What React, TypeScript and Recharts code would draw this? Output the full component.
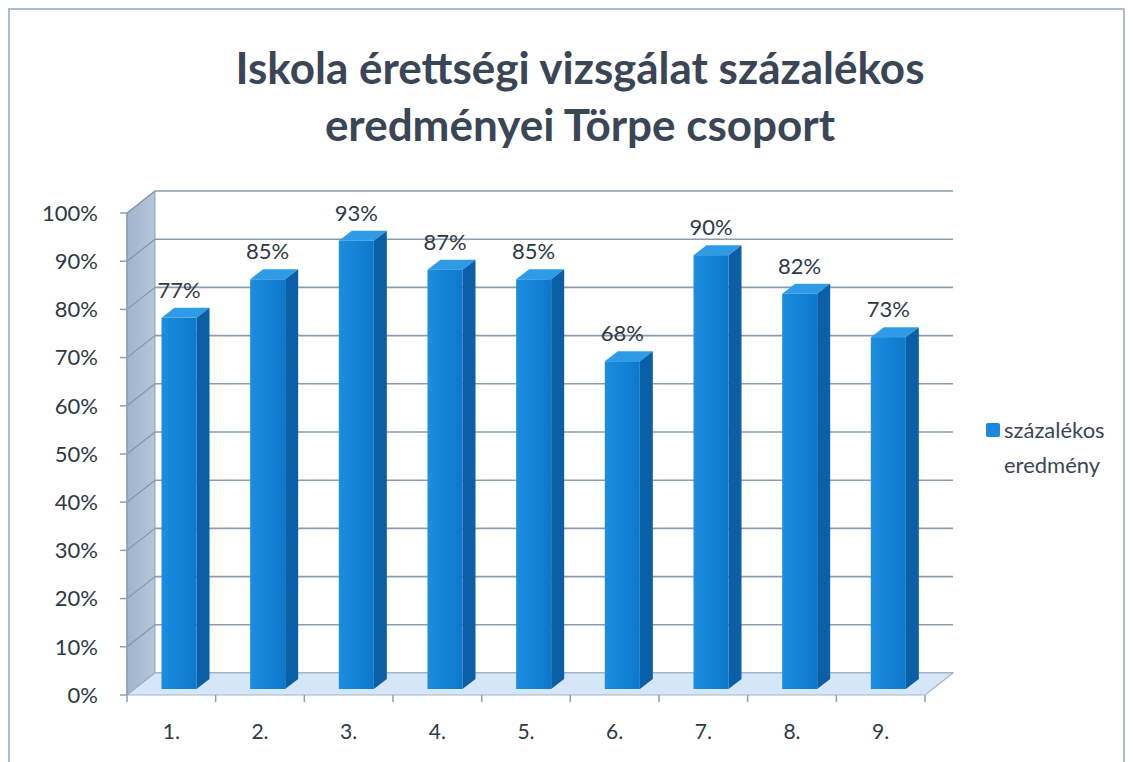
import React from "react"
import {
  ComposedChart,
  Bar,
  XAxis,
  YAxis,
  CartesianGrid,
  ReferenceArea,
} from "recharts"

// chart data
const categories = ["1.", "2.", "3.", "4.", "5.", "6.", "7.", "8.", "9."]
const percentValues = [77, 85, 93, 87, 85, 68, 90, 82, 73]
const yTicks = [0, 10, 20, 30, 40, 50, 60, 70, 80, 90, 100]
const titleLines = ["Iskola érettségi vizsgálat százalékos", "eredményei Törpe csoport"]
const legendLines = ["százalékos", "eredmény"]

const data = categories.map((name, i) => ({ name, value: percentValues[i] }))

// depth of the 3D box and of each bar
const DX = 28
const DY = -22
const BAR_DX = 13
const BAR_DY = -10
const SHIFT_X = (DX - BAR_DX) / 2
const SHIFT_Y = (DY - BAR_DY) / 2

const FONT = "Lato, 'Noto Sans', sans-serif"
const TEXT = "#2e3946"

function BackWallLine(props: any) {
  const { x1, y1, x2, y2, key } = props
  return (
    <line
      key={key}
      x1={x1 + DX}
      y1={y1 + DY}
      x2={x2 + DX}
      y2={y2 + DY}
      stroke="#8c9cb0"
      strokeWidth={1.6}
    />
  )
}

function Box(props: any) {
  const { x, y, width, height } = props
  const bottom = y + height
  const diag = yTicks.map((v) => {
    const yy = y + height * (1 - v / 100)
    return <line key={v} x1={x} y1={yy} x2={x + DX} y2={yy + DY} stroke="#7f95ad" strokeWidth={1.2} />
  })
  const ticks = categories.map((_, i) => i).concat([categories.length]).map((k) => {
    const xx = x + (width * k) / categories.length
    return <line key={k} x1={xx} y1={bottom} x2={xx} y2={bottom + 7} stroke="#8c9fb4" strokeWidth={1.5} />
  })
  return (
    <g>
      <defs>
        <linearGradient id="sideWall" x1="0" y1="0" x2="1" y2="0">
          <stop offset="0%" stopColor="#9fb5cd" />
          <stop offset="100%" stopColor="#b4c6da" />
        </linearGradient>
      </defs>
      <polygon
        points={`${x},${y} ${x + DX},${y + DY} ${x + DX},${bottom + DY} ${x},${bottom}`}
        fill="url(#sideWall)"
        stroke="#8ea2b8"
        strokeWidth={1}
      />
      {diag}
      <polygon
        points={`${x},${bottom} ${x + width},${bottom} ${x + width + DX},${bottom + DY} ${x + DX},${bottom + DY}`}
        fill="#d4e6f7"
        stroke="#a2b6cb"
        strokeWidth={1.2}
      />
      {ticks}
    </g>
  )
}

function Bar3D(props: any) {
  const { x, y, width, height } = props
  const fx = x + SHIFT_X
  const fy = y + SHIFT_Y
  const h = height
  return (
    <g>
      <polygon
        points={`${fx},${fy} ${fx + BAR_DX},${fy + BAR_DY} ${fx + width + BAR_DX},${fy + BAR_DY} ${fx + width},${fy}`}
        fill="#2f9be6"
      />
      <polygon
        points={`${fx + width},${fy} ${fx + width + BAR_DX},${fy + BAR_DY} ${fx + width + BAR_DX},${fy + h + BAR_DY} ${fx + width},${fy + h}`}
        fill="#0a5fa6"
      />
      <rect x={fx} y={fy} width={width} height={h} fill="url(#barFront)" />
    </g>
  )
}

function BarLabel(props: any) {
  const { x, y, width, value } = props
  return (
    <text
      x={x + width / 2 + SHIFT_X}
      y={y + SHIFT_Y - 20}
      textAnchor="middle"
      fontFamily={FONT}
      fontSize={22}
      fill={TEXT}
    >
      {value}%
    </text>
  )
}

export default function App() {
  return (
    <div
      style={{
        position: "relative",
        width: 1113,
        height: 752,
        borderTop: "2px solid #a9bcd1",
        borderLeft: "2px solid #a9bcd1",
        borderRight: "2px solid #a9bcd1",
        fontFamily: FONT,
      }}
    >
      <div
        style={{
          position: "absolute",
          left: 0,
          top: 29,
          width: 1140,
          textAlign: "center",
          fontSize: 44,
          fontWeight: 700,
          lineHeight: "57px",
          color: "#3a4556",
        }}
      >
        {titleLines.map((t) => (
          <div key={t}>{t}</div>
        ))}
      </div>
      <ComposedChart
        width={1113}
        height={752}
        data={data}
        margin={{ top: 203, right: 198, bottom: 37, left: 0 }}
      >
        <defs>
          <linearGradient id="barFront" x1="0" y1="0" x2="1" y2="0">
            <stop offset="0%" stopColor="#1c8de0" />
            <stop offset="100%" stopColor="#0c78cc" />
          </linearGradient>
        </defs>
        <ReferenceArea y1={0} y2={100} ifOverflow="visible" shape={Box} />
        <CartesianGrid vertical={false} horizontal={BackWallLine} />
        <XAxis
          dataKey="name"
          height={30}
          axisLine={false}
          tickLine={false}
          tickSize={0}
          tickMargin={29}
          tick={{ fontFamily: FONT, fontSize: 21, fill: TEXT }}
        />
        <YAxis
          width={117}
          domain={[0, 100]}
          ticks={yTicks}
          interval={0}
          tickFormatter={(v) => `${v}%`}
          axisLine={{ stroke: "#8c9fb4", strokeWidth: 1.5 }}
          tickLine={{ stroke: "#8c9fb4", strokeWidth: 1.5 }}
          tickSize={7}
          tickMargin={22}
          tick={{ fontFamily: FONT, fontSize: 22, fill: TEXT }}
        />
        <Bar
          dataKey="value"
          barSize={35}
          shape={Bar3D}
          label={BarLabel}
          isAnimationActive={false}
        />
      </ComposedChart>
      <div
        style={{
          position: "absolute",
          left: 976,
          top: 402,
          fontSize: 22,
          lineHeight: "35px",
          color: "#3a4556",
        }}
      >
        <div style={{ display: "flex", alignItems: "center" }}>
          <span
            style={{
              display: "inline-block",
              width: 14,
              height: 14,
              background: "#1a88dc",
              borderRadius: 2,
              marginRight: 4,
            }}
          />
          {legendLines[0]}
        </div>
        <div style={{ paddingLeft: 18 }}>{legendLines[1]}</div>
      </div>
    </div>
  )
}
